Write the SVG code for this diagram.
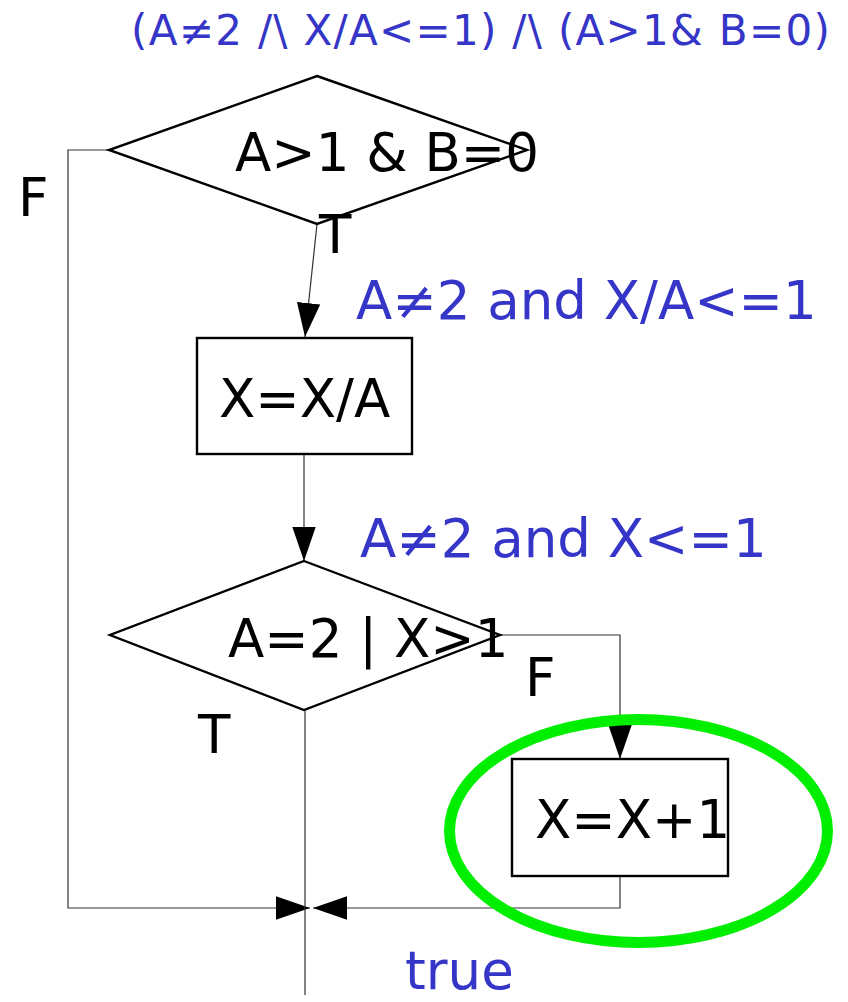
<svg xmlns="http://www.w3.org/2000/svg" width="848" height="1002" viewBox="0 0 848 1002">
<defs>
<marker id="ah" markerUnits="userSpaceOnUse" markerWidth="34" markerHeight="24" viewBox="0 0 32 22" refX="32" refY="11" orient="auto">
<path d="M0,0 L32,11 L0,22 Z" fill="#000"/>
</marker>
<style>
.shape{fill:#fff;stroke:#000;stroke-width:2.4}
.conn{fill:none;stroke:#333;stroke-width:1.2}
.t{font-family:"DejaVu Sans",Verdana,sans-serif;font-size:53px;fill:#000}
.b{font-family:"DejaVu Sans",Verdana,sans-serif;font-size:53px;fill:#3535c8}
.title{font-family:"DejaVu Sans",Verdana,sans-serif;font-size:42px;letter-spacing:1.3px;fill:#3535c8}
</style>
</defs>
<rect width="848" height="1002" fill="#fff"/>
<g id="connectors">
<polyline class="conn" points="110,150 68,150 68,908 310,908" marker-end="url(#ah)"/>
<line class="conn" x1="317" y1="224" x2="305" y2="337" marker-end="url(#ah)"/>
<line class="conn" x1="304" y1="454" x2="304" y2="561" marker-end="url(#ah)"/>
<polyline class="conn" points="500,635 620,635 620,759" marker-end="url(#ah)"/>
<polyline class="conn" points="620,876 620,908 313,908" marker-end="url(#ah)"/>
<line class="conn" x1="305" y1="710" x2="305" y2="995"/>
</g>
<g id="cond1">
<polygon class="shape" points="317,76 527,150 317,224 109,150"/>
<text class="t" x="235" y="171">A&gt;1 &amp; B=0</text>
</g>
<g id="assign1">
<rect class="shape" x="197" y="338" width="215" height="116"/>
<text class="t" x="219" y="417">X=X/A</text>
</g>
<g id="cond2">
<polygon class="shape" points="304,561 500,635 304,710 110,635"/>
<text class="t" x="228" y="657">A=2 | X&gt;1</text>
</g>
<g id="assign2">
<rect class="shape" x="512" y="759" width="216" height="117"/>
<text class="t" x="535" y="838">X=X+1</text>
</g>
<g id="highlight">
<ellipse cx="638.5" cy="831" rx="189" ry="111.5" fill="none" stroke="#00ee00" stroke-width="11"/>
</g>
<g id="labels">
<text class="title" x="131" y="45">(A≠2 /\ X/A&lt;=1) /\ (A&gt;1&amp; B=0)</text>
<text class="t" x="319" y="253">T</text>
<text class="t" x="18" y="216">F</text>
<text class="b" x="356" y="319">A≠2 and X/A&lt;=1</text>
<text class="b" x="360" y="557">A≠2 and X&lt;=1</text>
<text class="t" x="525" y="696">F</text>
<text class="t" x="198" y="753">T</text>
<text class="b" x="405" y="989">true</text>
</g>
</svg>
